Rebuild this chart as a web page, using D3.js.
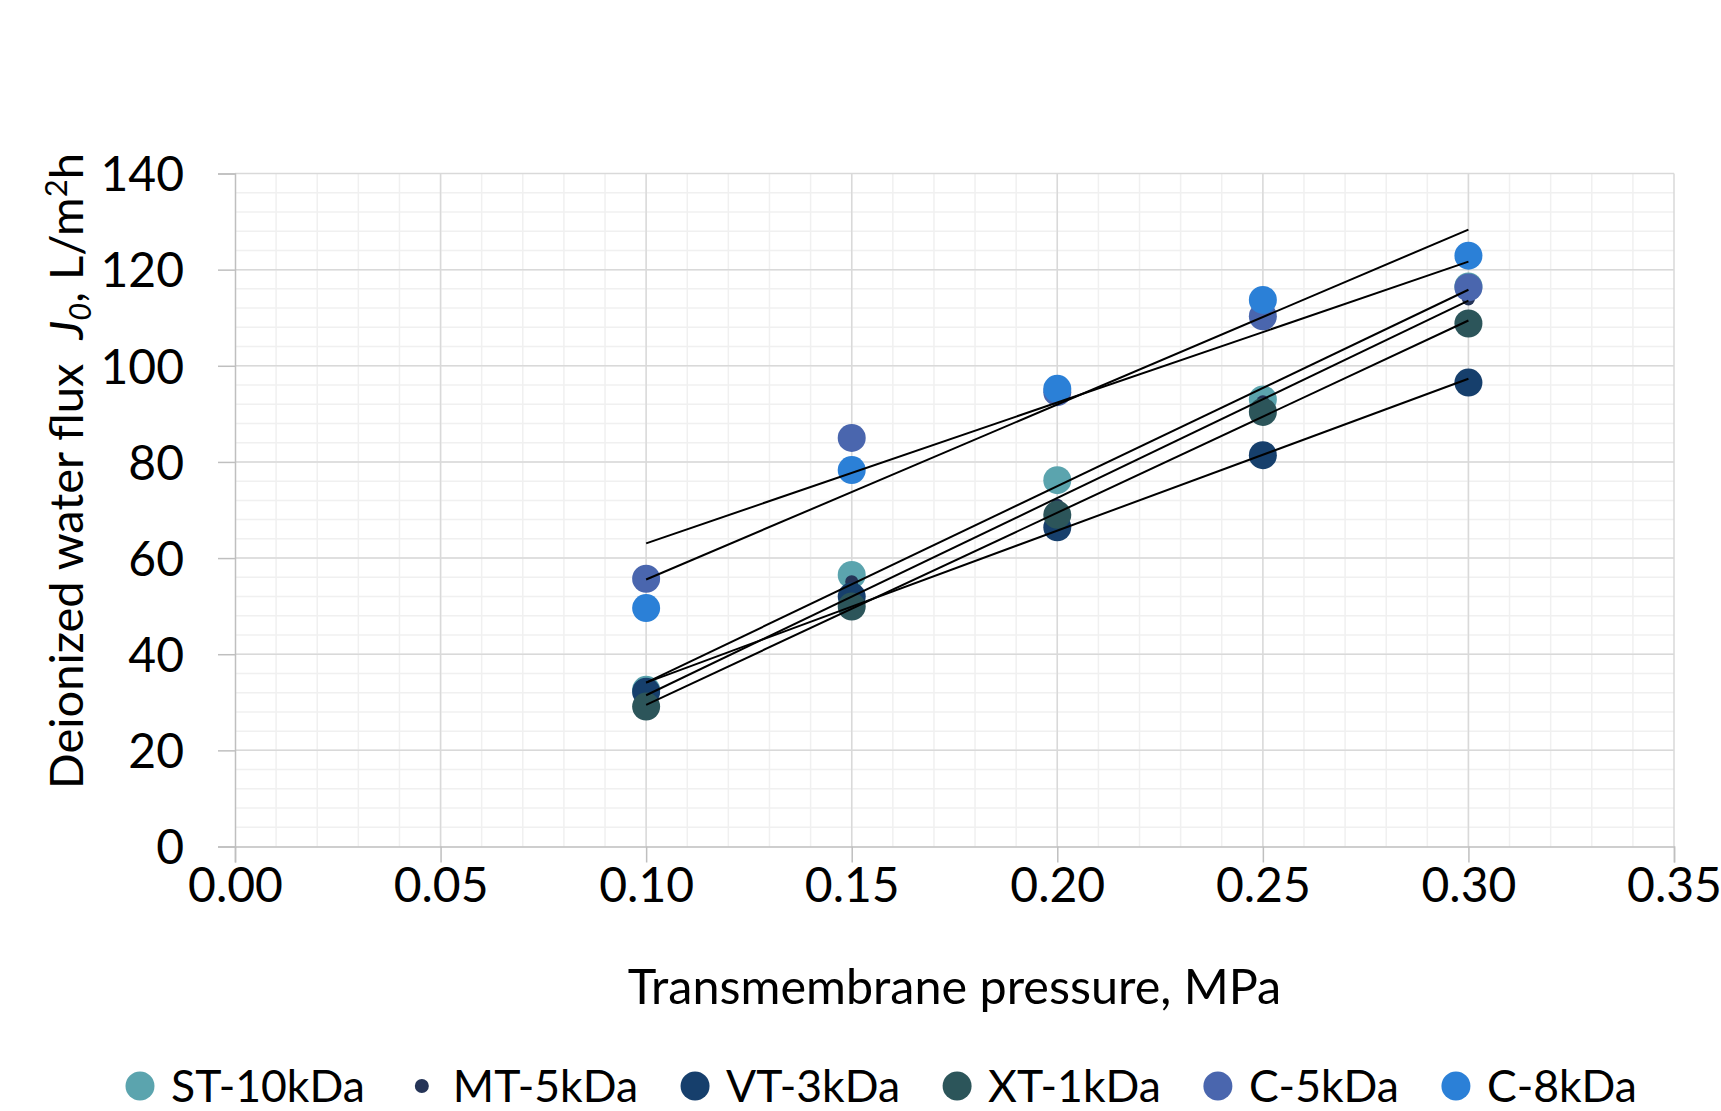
<!DOCTYPE html>
<html>
<head>
<meta charset="utf-8">
<script src="https://cdn.jsdelivr.net/npm/d3@7"></script>
<style>
  body { margin: 0; background: #fff; }
  svg { display: block; font-family: Lato, "Open Sans", sans-serif; }
</style>
</head>
<body>
<div id="chart"></div>
<script>
// values
const pressure = [0.10, 0.15, 0.20, 0.25, 0.30];
const st10 = [32.6, 56.5, 76.2, 93.0, 116.5];
const mt5 = [30.0, 55.1, 71.0, 92.5, 113.9];
const vt3 = [32.2, 52.0, 66.4, 81.4, 96.5];
const xt1 = [29.1, 49.9, 69.0, 90.4, 108.8];
const c5 = [55.7, 85.0, 94.5, 110.3, 116.3];
const c8 = [49.6, 78.3, 95.2, 113.7, 122.9];

const seriesNames = ["ST-10kDa", "MT-5kDa", "VT-3kDa", "XT-1kDa", "C-5kDa", "C-8kDa"];
const seriesColors = ["#5ba4ae", "#253457", "#163f6c", "#2c555a", "#4a66ae", "#2b80d7"];
const seriesRadius = [14, 6.5, 14, 14, 14, 14];
const xTicks = [0, 0.05, 0.10, 0.15, 0.20, 0.25, 0.30, 0.35];
const yTicks = [0, 20, 40, 60, 80, 100, 120, 140];

const W = 1721, H = 1111;
const margins = { top: 173.5, right: 47, bottom: 264.5, left: 235 };

const series = [st10, mt5, vt3, xt1, c5, c8].map((vals, i) => ({
  name: seriesNames[i],
  color: seriesColors[i],
  r: seriesRadius[i],
  points: pressure.map((p, j) => [p, vals[j]])
}));

const x_scale = d3.scaleLinear().domain([0, 0.35]).range([margins.left, W - margins.right]);
const y_scale = d3.scaleLinear().domain([0, 140]).range([H - margins.bottom, margins.top]);

const svg = d3.select("#chart").append("svg")
  .attr("width", W)
  .attr("height", H);

// minor grid
const grid = svg.append("g").attr("class", "grid");
grid.selectAll(".vminor")
  .data(d3.range(1, 35).map(i => i / 100))
  .enter().append("line")
  .attr("x1", d => x_scale(d)).attr("x2", d => x_scale(d))
  .attr("y1", y_scale(0)).attr("y2", y_scale(140))
  .attr("stroke", "#f0f0f0").attr("stroke-width", 1.5);
grid.selectAll(".hminor")
  .data(d3.range(1, 35).map(i => i * 4))
  .enter().append("line")
  .attr("x1", x_scale(0)).attr("x2", x_scale(0.35))
  .attr("y1", d => y_scale(d)).attr("y2", d => y_scale(d))
  .attr("stroke", "#f0f0f0").attr("stroke-width", 1.5);

// major grid
grid.selectAll(".vmajor")
  .data(xTicks.slice(1))
  .enter().append("line")
  .attr("x1", d => x_scale(d)).attr("x2", d => x_scale(d))
  .attr("y1", y_scale(0)).attr("y2", y_scale(140))
  .attr("stroke", "#d9d9d9").attr("stroke-width", 1.5);
grid.selectAll(".hmajor")
  .data(yTicks.slice(1))
  .enter().append("line")
  .attr("x1", x_scale(0)).attr("x2", x_scale(0.35))
  .attr("y1", d => y_scale(d)).attr("y2", d => y_scale(d))
  .attr("stroke", "#d9d9d9").attr("stroke-width", 1.5);

// axes
const x_axis = d3.axisBottom(x_scale).tickValues(xTicks)
  .tickSize(16).tickPadding(5).tickFormat(d3.format(".2f"));
const y_axis = d3.axisLeft(y_scale).tickValues(yTicks)
  .tickSize(17).tickPadding(34).tickFormat(d3.format("d"));

const gx = svg.append("g")
  .attr("class", "x axis")
  .attr("transform", `translate(0, ${y_scale(0)})`)
  .call(x_axis);
const gy = svg.append("g")
  .attr("class", "y axis")
  .attr("transform", `translate(${x_scale(0)}, 0)`)
  .call(y_axis);

[gx, gy].forEach(g => {
  g.select(".domain").attr("stroke", "#bfbfbf").attr("stroke-width", 1.5);
  g.selectAll(".tick line").attr("stroke", "#bfbfbf").attr("stroke-width", 1.5);
  g.selectAll(".tick text")
    .attr("fill", "#000")
    .attr("font-family", "Lato, sans-serif")
    .style("font-size", "48px")
    .style("font-weight", 400);
});
gx.selectAll(".tick text").attr("dy", "0.72em");
gy.selectAll(".tick text").attr("dy", "0.36em");

// markers
const marks = svg.append("g").attr("class", "markers");
series.forEach(s => {
  marks.append("g")
    .selectAll("circle")
    .data(s.points)
    .enter().append("circle")
    .attr("cx", d => x_scale(d[0]))
    .attr("cy", d => y_scale(d[1]))
    .attr("r", s.r)
    .attr("fill", s.color);
});

// linear trendlines (least squares), drawn over the markers
const trend = pts => {
  const mx = d3.mean(pts, d => d[0]), my = d3.mean(pts, d => d[1]);
  const sxy = d3.sum(pts, d => (d[0] - mx) * (d[1] - my));
  const sxx = d3.sum(pts, d => (d[0] - mx) ** 2);
  const b = sxy / sxx, a = my - b * mx;
  const [x0, x1] = d3.extent(pts, d => d[0]);
  return [[x0, a + b * x0], [x1, a + b * x1]];
};
const line = d3.line().x(d => x_scale(d[0])).y(d => y_scale(d[1]));
svg.append("g").attr("class", "trendlines")
  .selectAll("path")
  .data(series.map(s => trend(s.points)))
  .enter().append("path")
  .attr("d", line)
  .attr("fill", "none")
  .attr("stroke", "#000")
  .attr("stroke-width", 2);

// axis titles
svg.append("text")
  .attr("x", (x_scale(0) + x_scale(0.35)) / 2)
  .attr("y", 1004)
  .attr("text-anchor", "middle")
  .style("font-size", "48.5px")
  .text("Transmembrane pressure, MPa");

const yt = svg.append("text")
  .attr("transform", "translate(83, 471) rotate(-90)")
  .attr("text-anchor", "middle")
  .style("font-size", "47px");
yt.append("tspan").text("Deionized water flux\u00a0 ");
yt.append("tspan").style("font-style", "italic").text("J");
yt.append("tspan").style("font-style", "italic").style("font-size", "31px").attr("dy", 8).text("0");
yt.append("tspan").attr("dy", -8).text(", L/m");
yt.append("tspan").style("font-size", "31px").attr("dy", -16).text("2");
yt.append("tspan").attr("dy", 16).text("h");

// legend
const legend = svg.append("g").attr("class", "legend")
  .attr("transform", "translate(0, 1086)");
let lx = 140;
series.forEach(s => {
  legend.append("circle")
    .attr("cx", lx).attr("cy", 0)
    .attr("r", s.r === 14 ? 14.5 : 7)
    .attr("fill", s.color);
  const t = legend.append("text")
    .attr("x", lx + 31).attr("y", 0).attr("dy", "0.35em")
    .style("font-size", "44.5px")
    .text(s.name);
  lx += 31 + t.node().getComputedTextLength() + 57;
});
</script>
</body>
</html>
